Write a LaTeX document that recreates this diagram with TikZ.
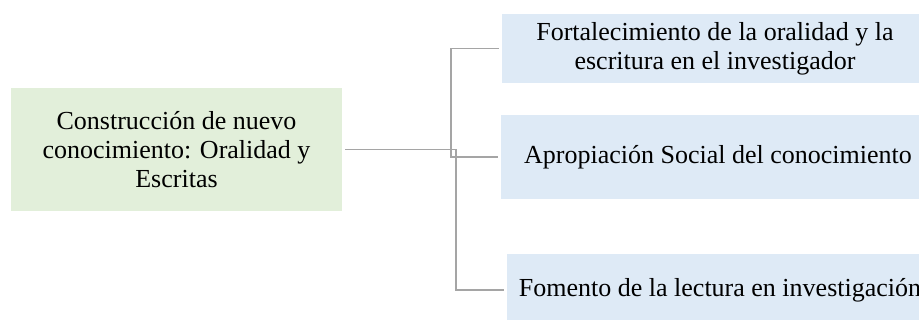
\documentclass[tikz,border=0pt]{standalone}
\usepackage{fontspec}
\setmainfont{Liberation Serif}
\usetikzlibrary{calc}
\definecolor{boxgreen}{HTML}{E2EFDA}
\definecolor{boxblue}{HTML}{DEEAF6}
\definecolor{linegray}{HTML}{A5A5A5}
\begin{document}
\begin{tikzpicture}[x=1pt, y=1pt,
	greenbox/.style={fill=boxgreen, align=center, inner sep=0pt, outer sep=3pt},
	bluebox/.style={fill=boxblue, align=center, inner sep=0pt, outer sep=3pt},
	link/.style={draw=linegray, line width=1.7pt},
	font=\fontsize{26}{29}\selectfont]
	\path[use as bounding box, clip] (0,0) rectangle (919,320);
	\node[greenbox, minimum width=331, minimum height=123] (mainbox) at (176.5,170.5) {Construcción de nuevo\\conocimiento: Oralidad y\\Escritas};
	\node[bluebox, minimum width=426, minimum height=69] (box1) at (715,271.5) {Fortalecimiento de la oralidad y la\\escritura en el investigador};
	\node[bluebox, minimum width=434, minimum height=84] (box2) at (718,163) {Apropiación Social del conocimiento};
	\node[bluebox, minimum width=426, minimum height=72] (box3) at (720,30) {Fomento de la lectura en investigación};
	\draw[link] (mainbox.east) -- ++(111,0) |- (box3.west);
	\draw[link] (box1.west) -- ++(-48,0) |- (box2.west);
\end{tikzpicture}
\end{document}
